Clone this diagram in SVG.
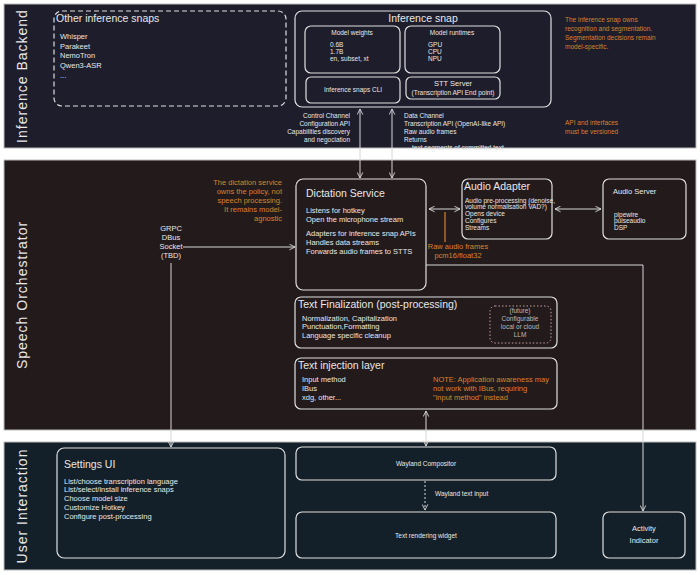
<svg xmlns="http://www.w3.org/2000/svg" width="700" height="575" viewBox="0 0 700 575">
<style>
text{font-family:"Liberation Sans",Arial,sans-serif;fill:#e8e8e8}
.s{font-size:6.5px}.m{font-size:7.5px}.t{font-size:10.5px}.b{font-size:13px}
.o{fill:#d9822b}
.bx{fill:none;stroke:#e0e0e0;stroke-width:1.2}
.c{stroke:#d8d8d8;stroke-width:1;fill:none}
.lab{font-size:14px;letter-spacing:1px}
</style>
<defs>
<marker id="a" viewBox="0 0 10 10" refX="9" refY="5" markerWidth="7" markerHeight="7" orient="auto-start-reverse"><path d="M1 1L9 5L1 9" fill="none" stroke="#d8d8d8" stroke-width="1.3"/></marker>
</defs>
<rect width="700" height="575" fill="#fff"/>
<g id="bands">
<rect x="4" y="4" width="692" height="144" fill="#1e1d2b" stroke="#bbb"/>
<rect x="4" y="160" width="692" height="270" fill="#231a1c" stroke="#bbb"/>
<rect x="4" y="442" width="692" height="128" fill="#142029" stroke="#bbb"/>
<text class="lab" transform="translate(27 76) rotate(-90)" text-anchor="middle">Inference Backend</text>
<text class="lab" transform="translate(27 295) rotate(-90)" text-anchor="middle">Speech Orchestrator</text>
<text class="lab" transform="translate(27 506) rotate(-90)" text-anchor="middle">User Interaction</text>
</g>
<g id="other-snaps">
<rect x="54" y="11" width="232" height="95" rx="8" class="bx" stroke-dasharray="5 3" stroke-width="1.8"/>
<text x="56" y="22" class="t">Other inference snaps</text>
<text x="60" y="39" class="m">Whisper</text><text x="60" y="49" class="m">Parakeet</text><text x="60" y="58" class="m">NemoTron</text><text x="60" y="68" class="m">Qwen3-ASR</text><text x="60" y="78" class="m">...</text>
</g>
<g id="inference-snap">
<rect x="295" y="11" width="256" height="96" rx="7" class="bx"/>
<text x="423" y="22" class="t" text-anchor="middle">Inference snap</text>
<rect x="305" y="26" width="95" height="47" rx="6" class="bx"/>
<text x="352" y="35" class="s" text-anchor="middle">Model weights</text>
<text x="330" y="47" class="s">0.6B</text><text x="330" y="54" class="s">1.7B</text><text x="330" y="61" class="s">en, subset, xt</text>
<rect x="405" y="26" width="95" height="47" rx="6" class="bx"/>
<text x="452" y="35" class="s" text-anchor="middle">Model runtimes</text>
<text x="428" y="47" class="s">GPU</text><text x="428" y="54" class="s">CPU</text><text x="428" y="61" class="s">NPU</text>
<rect x="306" y="77" width="94" height="26" rx="5" class="bx"/>
<text x="353" y="92" class="s" text-anchor="middle">Inference snaps CLI</text>
<rect x="406" y="77" width="94" height="22" rx="5" class="bx"/>
<text x="453" y="86" class="m" text-anchor="middle">STT Server</text>
<text x="453" y="95" class="s" text-anchor="middle">(Transcription API End point)</text>
</g>
<g id="notes-top">
<text class="s o" x="565"><tspan x="565" y="22">The inference snap owns</tspan><tspan x="565" y="31">recognition and segmentation.</tspan><tspan x="565" y="40">Segmentation decisions remain</tspan><tspan x="565" y="49">model-specific.</tspan></text>
<text class="s o"><tspan x="565" y="125">API and interfaces</tspan><tspan x="565" y="134">must be versioned</tspan></text>
<text class="s" text-anchor="end"><tspan x="350" y="118">Control Channel</tspan><tspan x="350" y="126">Configuration API</tspan><tspan x="350" y="134">Capabilities discovery</tspan><tspan x="350" y="142">and negociation</tspan></text>
<text class="s"><tspan x="404" y="118">Data Channel</tspan><tspan x="404" y="126">Transcription API (OpenAI-like API)</tspan><tspan x="404" y="134">Raw audio frames</tspan><tspan x="404" y="142">Returns</tspan><tspan x="412" y="150">text segments of committed text</tspan></text>
</g>
<g id="dictation">
<rect x="296" y="179" width="130" height="111" rx="7" class="bx"/>
<text x="306" y="197" class="t">Dictation Service</text>
<text class="m"><tspan x="306" y="213">Listens for hotkey</tspan><tspan x="306" y="222">Open the microphone stream</tspan><tspan x="306" y="236">Adapters for inference snap APIs</tspan><tspan x="306" y="245">Handles data streams</tspan><tspan x="306" y="254">Forwards audio frames to STTS</tspan></text>
<text class="m o" text-anchor="end"><tspan x="282" y="185">The dictation service</tspan><tspan x="282" y="194">owns the policy, not</tspan><tspan x="282" y="203">speech processing.</tspan><tspan x="282" y="212">It remains model-</tspan><tspan x="282" y="221">agnostic</tspan></text>
<text class="m" text-anchor="middle"><tspan x="171" y="231">GRPC</tspan><tspan x="171" y="240">DBus</tspan><tspan x="171" y="249">Socket</tspan><tspan x="171" y="258">(TBD)</tspan></text>
</g>
<g id="audio-adapter">
<rect x="462" y="179" width="90" height="60" rx="6" class="bx"/>
<text x="464" y="190" class="t">Audio Adapter</text>
<text class="s"><tspan x="465" y="203">Audio pre-processing (denoise,</tspan><tspan x="465" y="209">volume normalisation VAD?)</tspan><tspan x="465" y="216">Opens device</tspan><tspan x="465" y="223">Configures</tspan><tspan x="465" y="230">Streams</tspan></text>
<text class="m o" text-anchor="middle"><tspan x="458" y="249">Raw audio frames</tspan><tspan x="458" y="258">pcm16/float32</tspan></text>
</g>
<g id="audio-server">
<rect x="603" y="179" width="83" height="60" rx="6" class="bx"/>
<text x="613" y="194" class="m">Audio Server</text>
<text class="s"><tspan x="614" y="217">pipewire</tspan><tspan x="614" y="223">pulseaudio</tspan><tspan x="614" y="230">DSP</tspan></text>
</g>
<g id="text-finalization">
<rect x="295" y="297" width="262" height="51" rx="6" class="bx"/>
<text x="298" y="308" class="t">Text Finalization (post-processing)</text>
<text class="m"><tspan x="302" y="321">Normalization, Capitalization</tspan><tspan x="302" y="329">Punctuation,Formatting</tspan><tspan x="302" y="338">Language specific cleanup</tspan></text>
<rect x="490" y="306" width="61" height="37" rx="5" fill="none" stroke="#c8a0a0" stroke-dasharray="1.5 2"/>
<text class="s" text-anchor="middle" style="fill:#bbb"><tspan x="520" y="313">(future)</tspan><tspan x="520" y="321">Configurable</tspan><tspan x="520" y="329">local or cloud</tspan><tspan x="520" y="337">LLM</tspan></text>
</g>
<g id="text-injection">
<rect x="295" y="358" width="262" height="51" rx="6" class="bx"/>
<text x="298" y="369" class="t">Text injection layer</text>
<text class="m"><tspan x="302" y="382">Input method</tspan><tspan x="302" y="391">IBus</tspan><tspan x="302" y="400">xdg, other...</tspan></text>
<text class="m o"><tspan x="433" y="382">NOTE: Application awareness may</tspan><tspan x="433" y="391">not work with IBus, requiring</tspan><tspan x="433" y="400">"input method" instead</tspan></text>
</g>
<g id="settings-ui">
<rect x="57" y="448" width="228" height="110" rx="7" class="bx"/>
<text x="64" y="468" class="t">Settings UI</text>
<text class="m"><tspan x="64" y="484">List/choose transcription language</tspan><tspan x="64" y="492">List/select/install inference snaps</tspan><tspan x="64" y="501">Choose model size</tspan><tspan x="64" y="510">Customize Hotkey</tspan><tspan x="64" y="519">Configure post-processing</tspan></text>
</g>
<g id="wayland">
<rect x="296" y="447" width="260" height="33" rx="6" class="bx"/>
<text x="426" y="466" class="s" text-anchor="middle">Wayland Compositor</text>
</g>
<g id="text-widget">
<rect x="296" y="512" width="260" height="46" rx="6" class="bx"/>
<text x="426" y="538" class="s" text-anchor="middle">Text rendering widget</text>
</g>
<g id="activity">
<rect x="603" y="512" width="82" height="46" rx="6" class="bx"/>
<text class="m" text-anchor="middle"><tspan x="644" y="531">Activity</tspan><tspan x="644" y="543">Indicator</tspan></text>
</g>
<g id="connectors">
<line x1="360" y1="109" x2="360" y2="178" class="c" marker-start="url(#a)" marker-end="url(#a)"/>
<line x1="392" y1="109" x2="392" y2="178" class="c" marker-start="url(#a)" marker-end="url(#a)"/>
<line x1="183" y1="247" x2="295" y2="247" class="c" marker-end="url(#a)"/>
<line x1="171" y1="263" x2="171" y2="447" class="c" marker-end="url(#a)"/>
<line x1="429" y1="209" x2="460" y2="209" class="c" marker-start="url(#a)" marker-end="url(#a)"/>
<line x1="555" y1="209" x2="601" y2="209" class="c" marker-start="url(#a)" marker-end="url(#a)"/>
<line x1="445" y1="212" x2="445" y2="242" stroke="#d9822b" stroke-width="1.2"/>
<path d="M426 265H643V511" class="c" marker-end="url(#a)"/>
<line x1="426" y1="411" x2="426" y2="446" class="c" marker-start="url(#a)" marker-end="url(#a)"/>
<line x1="425" y1="481" x2="425" y2="510" class="c" stroke-dasharray="2 2" marker-end="url(#a)"/>
<text x="435" y="496" class="s">Wayland text input</text>
</g>
</svg>
